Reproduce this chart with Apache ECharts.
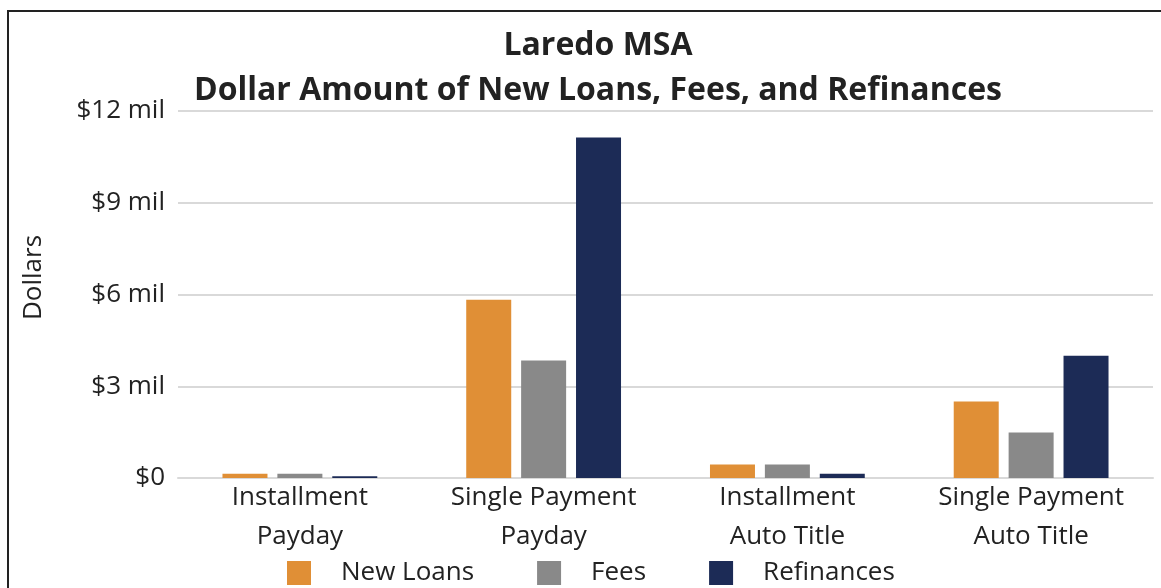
<!DOCTYPE html>
<html lang="en">
<head>
<meta charset="utf-8"/>
<title>Laredo MSA</title>
<script src="https://cdn.jsdelivr.net/npm/echarts@6/dist/echarts.min.js"></script>
<style>
  html,body{margin:0;padding:0;background:#fff;}
</style>
</head>
<body>
<div id="Echarts" style="width: 1161px;height: 588px;"></div>
<script>
// values, in millions of dollars
var categories = ['Installment\nPayday', 'Single Payment\nPayday', 'Installment\nAuto Title', 'Single Payment\nAuto Title'];
var newLoans   = [0.14, 5.83, 0.44, 2.50];
var fees       = [0.14, 3.84, 0.44, 1.49];
var refinances = [0.06, 11.13, 0.14, 4.00];
var yTicks = ['$0', '$3 mil', '$6 mil', '$9 mil', '$12 mil'];

var font = 'Open Sans';
var myChart = echarts.init(document.getElementById('Echarts'));

myChart.setOption({
    textStyle: { fontFamily: font },
    title: {
        text: 'Laredo MSA\nDollar Amount of New Loans, Fees, and Refinances',
        left: 593,
        top: 18,
        textAlign: 'center',
        textStyle: {
            fontFamily: font,
            fontSize: 32,
            fontWeight: 'bold',
            color: '#222',
            lineHeight: 45
        }
    },
    legend: {
        top: 555,
        left: 282,
        itemWidth: 24,
        itemHeight: 24,
        itemGap: 63,
        icon: 'rect',
        textStyle: {
            fontFamily: font,
            fontSize: 26,
            color: '#222',
            padding: [0, 0, 0, 25]
        },
        data: ['New Loans', 'Fees', 'Refinances']
    },
    grid: {
        left: 178,
        right: 8,
        top: 111,
        bottom: 110
    },
    xAxis: {
        type: 'category',
        data: categories,
        axisLine: { lineStyle: { color: '#d9d9d9', width: 2 } },
        axisTick: { show: false },
        axisLabel: {
            fontFamily: font,
            fontSize: 26,
            color: '#222',
            lineHeight: 39,
            margin: 0,
            interval: 0
        }
    },
    yAxis: {
        type: 'value',
        min: 0,
        max: 12,
        interval: 3,
        name: 'Dollars',
        nameLocation: 'middle',
        nameGap: 131,
        nameTextStyle: { fontFamily: font, fontSize: 26, color: '#222', padding: [0, 0, 0, 34] },
        axisLine: { show: false },
        axisTick: { show: false },
        splitLine: { lineStyle: { color: '#d9d9d9', width: 2 } },
        axisLabel: {
            fontFamily: font,
            fontSize: 26,
            color: '#222',
            margin: 13,
            formatter: function (v) { return yTicks[v / 3]; }
        }
    },
    series: [
        { name: 'New Loans', type: 'bar', data: newLoans, barWidth: 45, barGap: '22%', itemStyle: { color: '#E08F36' } },
        { name: 'Fees', type: 'bar', data: fees, barWidth: 45, barGap: '22%', itemStyle: { color: '#898989' } },
        { name: 'Refinances', type: 'bar', data: refinances, barWidth: 45, barGap: '22%', itemStyle: { color: '#1C2B56' } }
    ],
    graphic: [{
        type: 'rect',
        shape: { x: 8, y: 11, width: 1170, height: 600 },
        style: { fill: 'none', stroke: '#222', lineWidth: 2 },
        silent: true
    }]
});
</script>
</body>
</html>
